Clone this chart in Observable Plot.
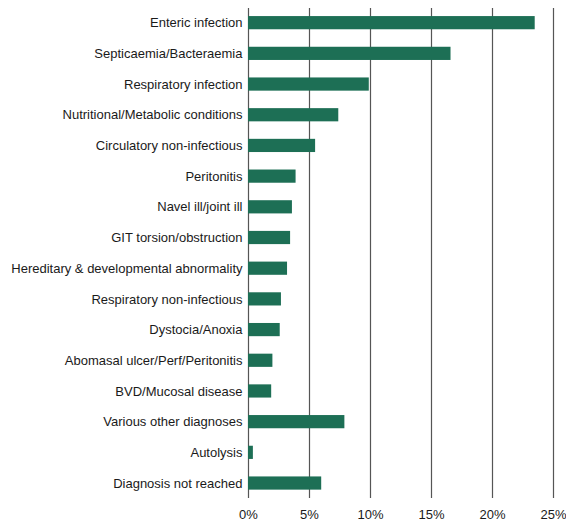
<!DOCTYPE html>
<html>
<head>
<meta charset="utf-8">
<script src="https://cdn.jsdelivr.net/npm/d3@7"></script>
<script src="https://cdn.jsdelivr.net/npm/@observablehq/plot@0.6"></script>
<style>
  html, body { margin: 0; padding: 0; background: #fff; }
  #chart svg { display: block; }
</style>
</head>
<body>
<div id="chart"></div>
<script>
const categories = [
  "Enteric infection",
  "Septicaemia/Bacteraemia",
  "Respiratory infection",
  "Nutritional/Metabolic conditions",
  "Circulatory non-infectious",
  "Peritonitis",
  "Navel ill/joint ill",
  "GIT torsion/obstruction",
  "Hereditary & developmental abnormality",
  "Respiratory non-infectious",
  "Dystocia/Anoxia",
  "Abomasal ulcer/Perf/Peritonitis",
  "BVD/Mucosal disease",
  "Various other diagnoses",
  "Autolysis",
  "Diagnosis not reached"
];
const percentages = [23.5, 16.6, 9.9, 7.4, 5.5, 3.9, 3.6, 3.45, 3.2, 2.7, 2.6, 2.0, 1.9, 7.9, 0.4, 6.0];
const xTicks = [0, 5, 10, 15, 20, 25];

const data = categories.map((c, i) => ({category: c, value: percentages[i]}));

const chart = Plot.plot({
  width: 566,
  height: 521,
  marginLeft: 248,
  marginRight: 13,
  marginTop: 8,
  marginBottom: 23,
  style: {fontFamily: "'Liberation Sans', Arial, sans-serif", fontSize: "13px", color: "#1a1a1a", background: "#fff"},
  x: {domain: [0, 25], ticks: xTicks, tickFormat: d => d + "%", label: null},
  y: {domain: categories, range: [13, 492.7], round: false, paddingInner: 0.57, paddingOuter: 0.1, label: null},
  marks: [
    Plot.ruleX(xTicks, {stroke: "#555", strokeWidth: 1.2, strokeOpacity: 1}),
    Plot.barX(data, {x: "value", y: "category", fill: "#1d6f55"}),
    Plot.axisX({ticks: xTicks, tickFormat: d => d + "%", tickSize: 0, tickPadding: 11, fontSize: 13, fill: "#1a1a1a", label: null}),
    Plot.axisY({tickSize: 0, tickPadding: 6, fontSize: 13, fill: "#1a1a1a", label: null})
  ]
});
document.getElementById("chart").appendChild(chart);
</script>
</body>
</html>
